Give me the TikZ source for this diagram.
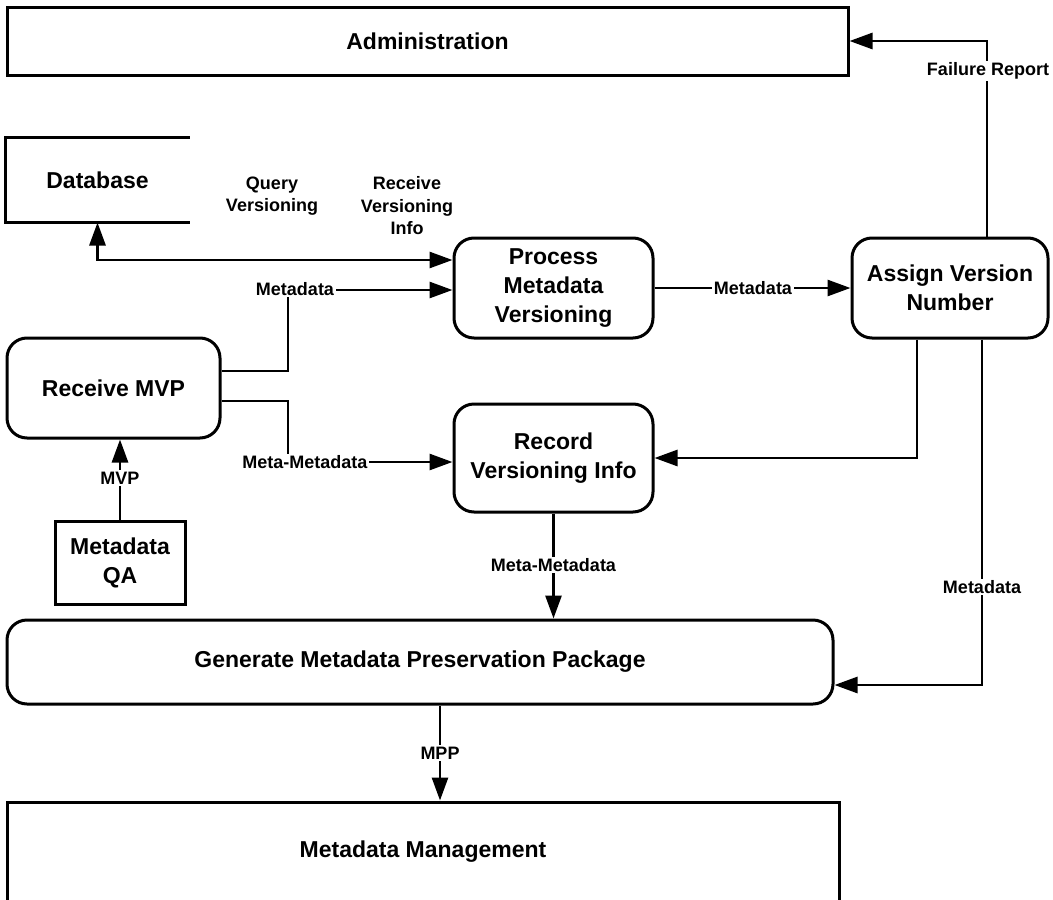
\documentclass[tikz,border=0pt]{standalone}
\usepackage{fontspec}
\setmainfont{Liberation Sans}
\usetikzlibrary{arrows.meta}
\begin{document}
\begin{tikzpicture}[x=1pt,y=-1pt,
  box/.style={draw, line width=3pt, inner sep=0pt, align=center,
    font=\fontsize{23}{29}\selectfont\bfseries},
  roundbox/.style={box, rounded corners=20pt},
  lbl/.style={fill=white, inner sep=1.5pt, align=center,
    font=\fontsize{18}{22.5}\selectfont\bfseries},
  tip/.tip={Triangle[length=23pt,width=16pt]},
  wire/.style={line width=2.8pt},
  flow/.style={wire, -tip}
]
\useasboundingbox (0,0) rectangle (1053,900);

% external entities and processes
\node[box, minimum width=841pt, minimum height=68pt] (admin) at (427.5,41) {Administration};
\node[box, draw=none, minimum width=181pt, minimum height=82pt] (db) at (97.5,180) {Database};
\draw[line width=3pt] (db.north east) -- (db.north west) -- (db.south west) -- (db.south east);
\node[roundbox, minimum width=199pt, minimum height=100pt] (proc) at (553.5,288) {Process\\Metadata\\Versioning};
\node[roundbox, minimum width=196pt, minimum height=100pt] (asg) at (950,288) {Assign Version\\Number};
\node[roundbox, minimum width=213pt, minimum height=100pt] (rmvp) at (113.5,388) {Receive MVP};
\node[roundbox, minimum width=199pt, minimum height=108pt] (rec) at (553.5,458) {Record\\Versioning Info};
\node[box, minimum width=130pt, minimum height=83pt] (qa) at (120,562.5) {Metadata\\QA};
\node[roundbox, minimum width=826pt, minimum height=84pt] (gen) at (420,662) {Generate Metadata Preservation Package};
\node[box, minimum width=832pt, minimum height=100pt] (mm) at (423,852) {Metadata Management};

% data flows
\draw[wire, tip-tip] (db.south) |- ([yshift=28pt]proc.west);
\coordinate (c1) at (288,290);
\draw[flow] ([yshift=17pt]rmvp.east) -| (c1) -- (c1 -| proc.west);
\coordinate (c2) at (288,462);
\draw[flow] ([yshift=-13pt]rmvp.east) -| (c2) -- (c2 -| rec.west);
\draw[flow] (qa.north) -- (qa.north |- rmvp.south);
\draw[flow] (proc.east) -- (asg.west);
\draw[flow] ([xshift=37pt]asg.north) |- (admin.east);
\draw[flow] ([xshift=-33pt]asg.south) |- (rec.east);
\draw[flow] ([xshift=32pt]asg.south) |- ([yshift=-23pt]gen.east);
\draw[flow] (rec.south) -- (rec.south |- gen.north);
\draw[flow] ([xshift=20pt]gen.south) -- ([xshift=20pt]gen.south |- mm.north);

% flow labels
\node[lbl] (lq) at (272,196) {Query\\Versioning};
\node[lbl] (lr) at (407,206) {Receive\\Versioning\\Info};
\node[lbl] (lm1) at (295,289) {Metadata};
\node[lbl] (lmm1) at (305,462) {Meta-Metadata};
\node[lbl] (lmvp) at (120,478) {MVP};
\node[lbl] (lm2) at (753,288) {Metadata};
\node[lbl] (lf) at (988,71) {Failure Report};
\node[lbl] (lm3) at (982,587) {Metadata};
\node[lbl] (lmm2) at (553.5,565) {Meta-Metadata};
\node[lbl] (lmpp) at (440,753) {MPP};
\end{tikzpicture}
\end{document}
